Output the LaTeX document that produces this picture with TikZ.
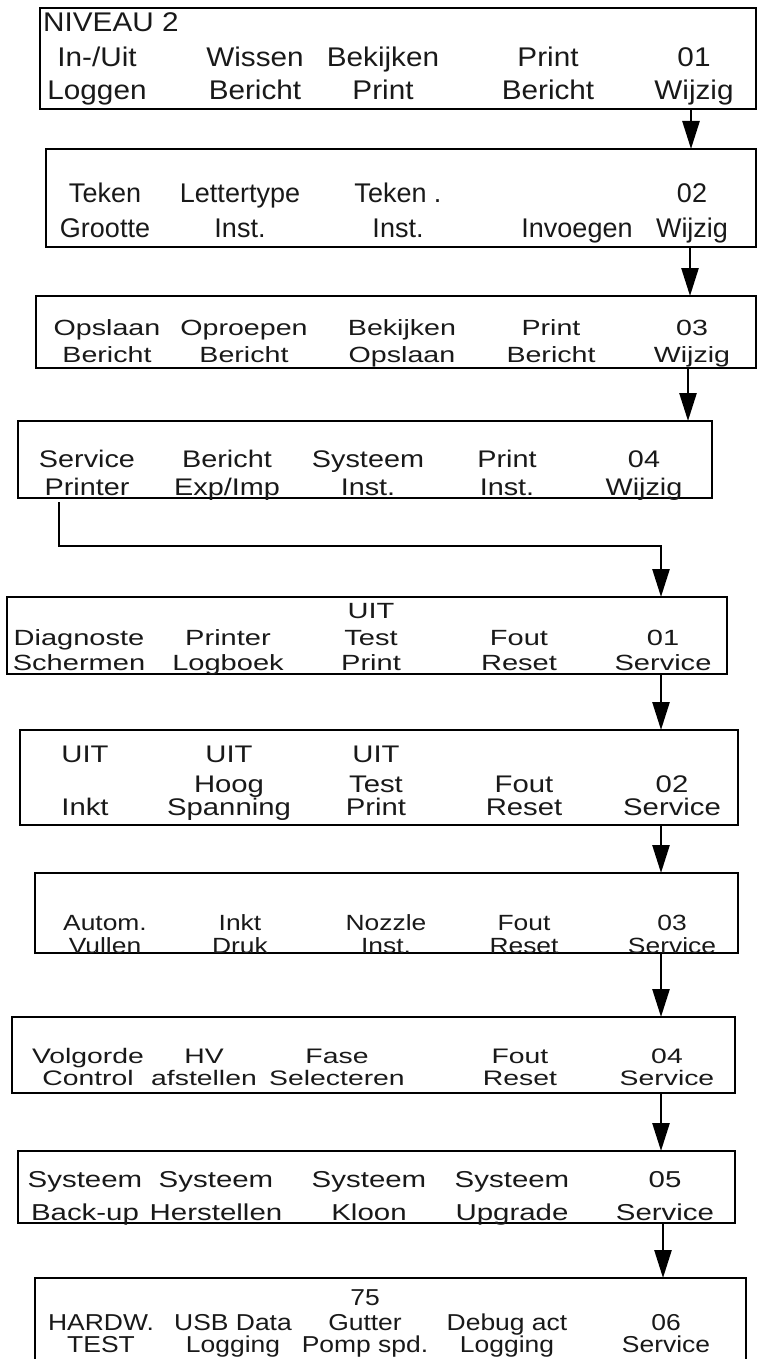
\documentclass[tikz,border=0pt]{standalone}
\usepackage{fontspec}
\setmainfont{Liberation Sans}
\usetikzlibrary{arrows.meta}
\newcommand\xs{1}
\newcommand\T[4]{\node[lcd] (#1) at (#2,#3) {\scalebox{\xs}[1]{#4}};}
\newcommand\TW[4]{\node[lcd,anchor=base west] (#1) at (#2,#3) {\scalebox{\xs}[1]{#4}};}
\begin{document}
\begin{tikzpicture}[x=1pt,y=-1pt,
  box/.style={draw=black,line width=2.6pt,fill=white,inner sep=0pt,outer sep=0pt},
  lcd/.style={anchor=base,inner sep=0pt,text=black!90},
  arr/.style={line width=2.6pt,-{Triangle[length=28pt,width=17pt]}}]
\useasboundingbox (0,0) rectangle (758,1359);
\clip (0,0) rectangle (758,1359);
% boxes
\node[box,minimum width=716pt,minimum height=101pt] (b1) at (398,58.5) {};
\node[box,minimum width=710pt,minimum height=98pt] (b2) at (401,198) {};
\node[box,minimum width=720pt,minimum height=72pt] (b3) at (396,332) {};
\node[box,minimum width=694pt,minimum height=77pt] (b4) at (365,459.5) {};
\node[box,minimum width=720pt,minimum height=77pt] (b5) at (367,635.5) {};
\node[box,minimum width=718pt,minimum height=95pt] (b6) at (379,777.5) {};
\node[box,minimum width=703pt,minimum height=80pt] (b7) at (386.5,913) {};
\node[box,minimum width=723pt,minimum height=76pt] (b8) at (373.5,1055) {};
\node[box,minimum width=717pt,minimum height=72pt] (b9) at (376.5,1187) {};
\node[box,minimum width=711pt,minimum height=94pt] (b10) at (390.5,1325) {};
% arrows
\coordinate (a1) at (691,0);
\coordinate (a2) at (690,0);
\coordinate (a3) at (688,0);
\coordinate (a5) at (661,0);
\coordinate (a9) at (663,0);
\coordinate (k1) at (59,546);
\coordinate (k2) at (661,546);
\draw[arr] (b1.south -| a1) -- (b2.north -| a1);
\draw[arr] (b2.south -| a2) -- (b3.north -| a2);
\draw[arr] (b3.south -| a3) -- (b4.north -| a3);
\draw[arr] ([yshift=-4pt]b4.south -| k1) -- (k1) -- (k2) -- (b5.north -| k2);
\draw[arr] (b5.south -| a5) -- (b6.north -| a5);
\draw[arr] (b6.south -| a5) -- (b7.north -| a5);
\draw[arr] (b7.south -| a5) -- (b8.north -| a5);
\draw[arr] (b8.south -| a5) -- (b9.north -| a5);
\draw[arr] (b9.south -| a9) -- (b10.north -| a9);
% box 1
\begin{scope}[every node/.append style={font=\fontsize{27}{27}\selectfont}]
\renewcommand\xs{1.1}
\TW{t1h}{43}{32}{NIVEAU 2}
\T{t1a1}{97}{67}{In-/Uit}   \T{t1a2}{97}{100}{Loggen}
\T{t1b1}{255}{67}{Wissen}   \T{t1b2}{255}{100}{Bericht}
\T{t1c1}{383}{67}{Bekijken} \T{t1c2}{383}{100}{Print}
\T{t1d1}{548}{67}{Print}    \T{t1d2}{548}{100}{Bericht}
\T{t1e1}{694}{67}{01}       \T{t1e2}{694}{100}{Wijzig}
% box 2
\renewcommand\xs{1.0}
\T{t2a1}{105}{202}{Teken}      \T{t2a2}{105}{237}{Grootte}
\T{t2b1}{240}{202}{Lettertype} \T{t2b2}{240}{237}{Inst.}
\T{t2c1}{398}{202}{Teken .}    \T{t2c2}{398}{237}{Inst.}
\T{t2d2}{577}{237}{Invoegen}
\T{t2e1}{692}{202}{02}         \T{t2e2}{692}{237}{Wijzig}
\end{scope}
% box 3
\begin{scope}[every node/.append style={font=\fontsize{22}{22}\selectfont}]
\renewcommand\xs{1.3}
\T{t3a1}{107}{335}{Opslaan}  \T{t3a2}{107}{362}{Bericht}
\T{t3b1}{244}{335}{Oproepen} \T{t3b2}{244}{362}{Bericht}
\T{t3c1}{402}{335}{Bekijken} \T{t3c2}{402}{362}{Opslaan}
\T{t3d1}{551}{335}{Print}    \T{t3d2}{551}{362}{Bericht}
\T{t3e1}{692}{335}{03}       \T{t3e2}{692}{362}{Wijzig}
\end{scope}
% box 4
\begin{scope}[every node/.append style={font=\fontsize{24}{24}\selectfont}]
\renewcommand\xs{1.2}
\T{t4a1}{87}{467}{Service}  \T{t4a2}{87}{495}{Printer}
\T{t4b1}{227}{467}{Bericht} \T{t4b2}{227}{495}{Exp/Imp}
\T{t4c1}{368}{467}{Systeem} \T{t4c2}{368}{495}{Inst.}
\T{t4d1}{507}{467}{Print}   \T{t4d2}{507}{495}{Inst.}
\T{t4e1}{644}{467}{04}      \T{t4e2}{644}{495}{Wijzig}
\end{scope}
% box 5
\begin{scope}[every node/.append style={font=\fontsize{22}{22}\selectfont}]
\renewcommand\xs{1.32}
\T{t5c0}{371}{618}{UIT}
\T{t5a1}{79}{645}{Diagnoste} \T{t5a2}{79}{670}{Schermen}
\T{t5b1}{228}{645}{Printer}  \T{t5b2}{228}{670}{Logboek}
\T{t5c1}{371}{645}{Test}     \T{t5c2}{371}{670}{Print}
\T{t5d1}{519}{645}{Fout}     \T{t5d2}{519}{670}{Reset}
\T{t5e1}{663}{645}{01}       \T{t5e2}{663}{670}{Service}
\end{scope}
% box 6
\begin{scope}[every node/.append style={font=\fontsize{24}{24}\selectfont}]
\renewcommand\xs{1.22}
\T{t6a0}{85}{762}{UIT}  \T{t6b0}{229}{762}{UIT}  \T{t6c0}{376}{762}{UIT}
\T{t6b1}{229}{792}{Hoog} \T{t6c1}{376}{792}{Test} \T{t6d1}{524}{792}{Fout} \T{t6e1}{672}{792}{02}
\T{t6a2}{85}{815}{Inkt} \T{t6b2}{229}{815}{Spanning} \T{t6c2}{376}{815}{Print}
\T{t6d2}{524}{815}{Reset} \T{t6e2}{672}{815}{Service}
\end{scope}
% box 7
\begin{scope}[every node/.append style={font=\fontsize{22}{22}\selectfont}]
\renewcommand\xs{1.2}
\T{t7a1}{105}{930}{Autom.} \T{t7a2}{105}{953}{Vullen}
\T{t7b1}{240}{930}{Inkt}   \T{t7b2}{240}{953}{Druk}
\T{t7c1}{386}{930}{Nozzle} \T{t7c2}{386}{953}{Inst.}
\T{t7d1}{524}{930}{Fout}   \T{t7d2}{524}{953}{Reset}
\T{t7e1}{672}{930}{03}     \T{t7e2}{672}{953}{Service}
\end{scope}
% box 8
\begin{scope}[every node/.append style={font=\fontsize{21}{21}\selectfont}]
\renewcommand\xs{1.35}
\T{t8a1}{88}{1063}{Volgorde} \T{t8a2}{88}{1085}{Control}
\T{t8b1}{204}{1063}{HV}      \T{t8b2}{204}{1085}{afstellen}
\T{t8c1}{337}{1063}{Fase}    \T{t8c2}{337}{1085}{Selecteren}
\T{t8d1}{520}{1063}{Fout}    \T{t8d2}{520}{1085}{Reset}
\T{t8e1}{667}{1063}{04}      \T{t8e2}{667}{1085}{Service}
\end{scope}
% box 9
\begin{scope}[every node/.append style={font=\fontsize{23}{23}\selectfont}]
\renewcommand\xs{1.28}
\T{t9a1}{85}{1187}{Systeem}  \T{t9a2}{85}{1220}{Back-up}
\T{t9b1}{216}{1187}{Systeem} \T{t9b2}{216}{1220}{Herstellen}
\T{t9c1}{369}{1187}{Systeem} \T{t9c2}{369}{1220}{Kloon}
\T{t9d1}{512}{1187}{Systeem} \T{t9d2}{512}{1220}{Upgrade}
\T{t9e1}{665}{1187}{05}      \T{t9e2}{665}{1220}{Service}
\end{scope}
% box 10
\begin{scope}[every node/.append style={font=\fontsize{23}{23}\selectfont}]
\renewcommand\xs{1.15}
\T{t10c0}{365}{1305}{75}
\T{t10a1}{101}{1330}{HARDW.}   \T{t10a2}{101}{1352}{TEST}
\T{t10b1}{233}{1330}{USB Data} \T{t10b2}{233}{1352}{Logging}
\T{t10c1}{365}{1330}{Gutter}   \T{t10c2}{365}{1352}{Pomp spd.}
\T{t10d1}{507}{1330}{Debug act}\T{t10d2}{507}{1352}{Logging}
\T{t10e1}{666}{1330}{06}       \T{t10e2}{666}{1352}{Service}
\end{scope}
\end{tikzpicture}
\end{document}
